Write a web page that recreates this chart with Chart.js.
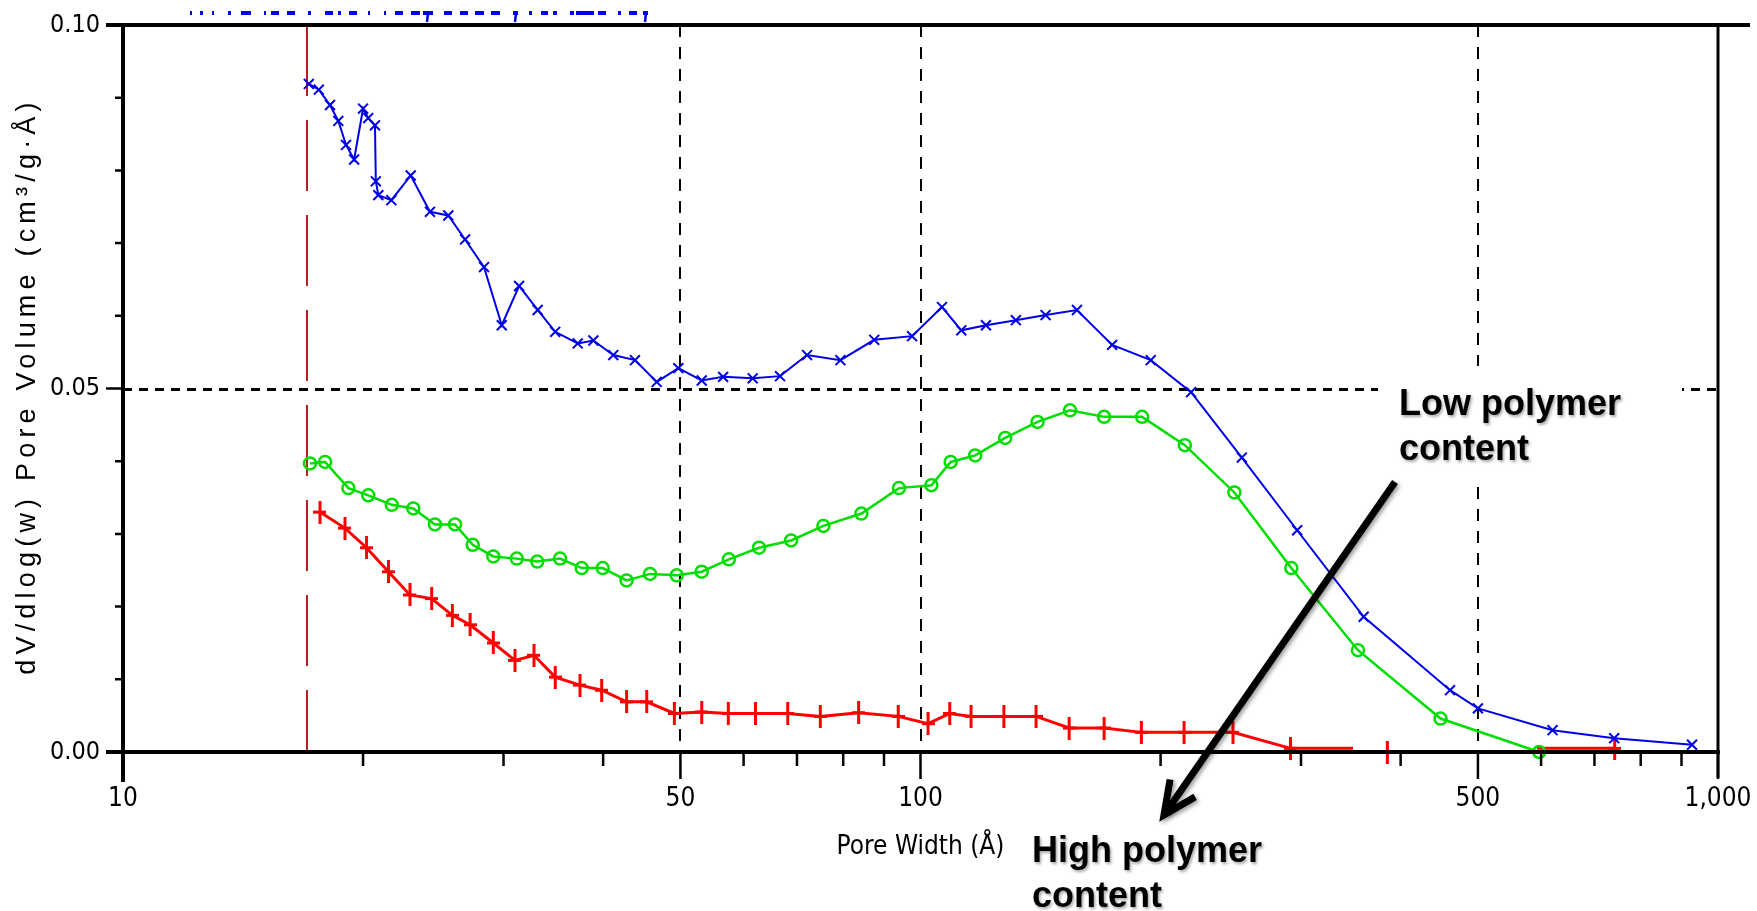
<!DOCTYPE html>
<html><head><meta charset="utf-8">
<script src="https://cdn.jsdelivr.net/npm/chart.js@4.4.1/dist/chart.umd.min.js"></script>
<style>html,body{margin:0;padding:0;background:#fff;overflow:hidden}canvas{display:block}</style>
</head><body>
<canvas id="c" width="1757" height="911"></canvas>
<script>
// ---------- data (pore width in Å, dV/dlog(w) in cm³/g·Å) ----------
const blueX = [17.1, 17.6, 18.18, 18.62, 19.04, 19.49, 20.0, 20.3, 20.7, 20.75, 20.9, 21.7, 22.95, 24.26, 25.58, 26.85, 28.36, 29.85, 31.38, 33.11, 34.83, 37.17, 38.89, 41.19, 43.85, 46.69, 49.7, 53.17, 56.56, 61.6, 66.66, 72.07, 79.36, 87.5, 97.6, 106.4, 112.5, 120.8, 131.7, 143.5, 157.1, 173.9, 194.4, 218.4, 252.9, 296.7, 359.5, 461.3, 500, 620.2, 741, 927.8];
const blueY = [0.0919, 0.0911, 0.0890, 0.0868, 0.0835, 0.0815, 0.0885, 0.0872, 0.0862, 0.0785, 0.0766, 0.0759, 0.0793, 0.0743, 0.0738, 0.0705, 0.0667, 0.0587, 0.0641, 0.0608, 0.0578, 0.0562, 0.0566, 0.0546, 0.0539, 0.0509, 0.0528, 0.0511, 0.0516, 0.0514, 0.0517, 0.0546, 0.0539, 0.0567, 0.0572, 0.0612, 0.0580, 0.0587, 0.0594, 0.0601, 0.0608, 0.0560, 0.0539, 0.0495, 0.0405, 0.0305, 0.0186, 0.0085, 0.0060, 0.0030, 0.0019, 0.0010];

const greenX = [17.16, 17.92, 19.17, 20.3, 21.73, 23.12, 24.61, 26.08, 27.45, 29.13, 31.17, 33.07, 35.32, 37.6, 39.95, 42.8, 45.8, 49.47, 53.17, 57.5, 62.73, 68.82, 75.55, 84.31, 93.96, 103.2, 109.1, 117.1, 127.7, 140.2, 154, 169.9, 189.6, 214.5, 247.5, 291.7, 353.6, 448.8, 596.7];
const greenY = [0.0397, 0.0399, 0.0363, 0.0353, 0.0340, 0.0335, 0.0313, 0.0313, 0.0285, 0.0269, 0.0266, 0.0262, 0.0266, 0.0253, 0.0253, 0.0236, 0.0245, 0.0243, 0.0248, 0.0265, 0.0281, 0.0291, 0.0311, 0.0328, 0.0363, 0.0367, 0.0399, 0.0408, 0.0432, 0.0454, 0.0470, 0.0461, 0.0461, 0.0422, 0.0357, 0.0253, 0.0140, 0.0046, 0.0000];

const redX = [17.66, 18.98, 20.2, 21.52, 22.9, 24.38, 25.88, 27.24, 29.13, 31.01, 32.76, 34.83, 37.41, 39.83, 42.8, 45.36, 49.13, 53.17, 57.41, 62.1, 68.16, 74.87, 83.63, 93.77, 102.2, 108.8, 115.7, 127.2, 139.6, 153.6, 169.9, 189.2, 214, 246.5, 291, 348.6, 366, 384.9, 480, 593, 742];
const redY = [0.0330, 0.0308, 0.0281, 0.0248, 0.0216, 0.0211, 0.0188, 0.0175, 0.0150, 0.0126, 0.0133, 0.0103, 0.0092, 0.0085, 0.0069, 0.0069, 0.0053, 0.0055, 0.0053, 0.0053, 0.0053, 0.0049, 0.0054, 0.0049, 0.0039, 0.0053, 0.0049, 0.0049, 0.0049, 0.0033, 0.0033, 0.0027, 0.0027, 0.0027, 0.0005, 0.0005, null, 0.0000, null, 0.0005, 0.0005];

const markerLineX = 17;                 // vertical red dashed marker
const xGridLines = [50, 100, 500];
const yGridLines = [0.05];
const xMajorTicks = [10, 50, 100, 500, 1000];
const xTickLabels = ['10', '50', '100', '500', '1,000'];
const xMinorTicks = [20, 30, 40, 60, 70, 80, 90, 200, 300, 400, 600, 700, 800, 900];
const yMajorTicks = [0, 0.05, 0.10];
const yTickLabels = ['0.00', '0.05', '0.10'];
const yMinorTicks = [0.01, 0.02, 0.03, 0.04, 0.06, 0.07, 0.08, 0.09];

const xTitle = 'Pore Width (Å)';
const yTitle = 'dV/dlog(w) Pore Volume (cm³/g·Å)';
const noteLow = ['Low polymer', 'content'];
const noteHigh = ['High polymer', 'content'];

// ---------- helpers ----------
const pts = (xs, ys) => xs.map((x, i) => ({x, y: ys[i]}));
const NARROW = '"DejaVu Sans Condensed", "Liberation Sans Narrow", sans-serif';
const noTickGrid = (len) => ({ display: true, drawOnChartArea: false, drawTicks: true, tickLength: len,
  tickColor: 'rgba(0,0,0,0)', color: 'rgba(0,0,0,0)' });

const plusMark = document.createElement('canvas');
plusMark.width = 13; plusMark.height = 23;
(() => { const g = plusMark.getContext('2d'); g.fillStyle = '#ff0000';
  g.fillRect(5, 0, 3, 23); g.fillRect(0, 10, 13, 3); })();

const decor = {
  id: 'decor',
  beforeDatasetsDraw(chart) {
    const {ctx, chartArea: a, scales: {x, y}} = chart;
    ctx.save();
    ctx.strokeStyle = '#000';
    ctx.lineWidth = 3; ctx.setLineDash([9, 7]);
    for (const v of yGridLines) {
      const py = Math.round(y.getPixelForValue(v)) + 0.5;
      ctx.beginPath(); ctx.moveTo(a.left, py); ctx.lineTo(a.right, py); ctx.stroke();
    }
    ctx.lineWidth = 2; ctx.setLineDash([12, 10]);
    for (const v of xGridLines) {
      const px = Math.round(x.getPixelForValue(v));
      ctx.beginPath(); ctx.moveTo(px, a.top); ctx.lineTo(px, a.bottom); ctx.stroke();
    }
    ctx.strokeStyle = '#b22222'; ctx.setLineDash([71, 24]);
    const mx = Math.round(x.getPixelForValue(markerLineX));
    ctx.beginPath(); ctx.moveTo(mx, a.top); ctx.lineTo(mx, a.bottom); ctx.stroke();
    ctx.restore();
  },
  afterDatasetsDraw(chart) {
    const {ctx, chartArea: a, scales: {x, y}} = chart;
    ctx.save();
    ctx.strokeStyle = '#000'; ctx.setLineDash([]);
    ctx.lineWidth = 4;
    ctx.beginPath();
    ctx.moveTo(a.left - 17, a.bottom); ctx.lineTo(a.right + 2, a.bottom);
    ctx.moveTo(a.left - 17, a.top); ctx.lineTo(a.right + 32, a.top);
    ctx.moveTo(a.left, a.top); ctx.lineTo(a.left, a.bottom + 30);
    ctx.stroke();
    ctx.lineWidth = 3;
    ctx.beginPath(); ctx.moveTo(a.right, a.top); ctx.lineTo(a.right, a.bottom + 26); ctx.stroke();
    ctx.lineWidth = 2.5;
    ctx.beginPath();
    for (const v of xMajorTicks) { const px = x.getPixelForValue(v); ctx.moveTo(px, a.bottom); ctx.lineTo(px, a.bottom + 27); }
    for (const v of xMinorTicks) { const px = x.getPixelForValue(v); ctx.moveTo(px, a.bottom); ctx.lineTo(px, a.bottom + 14); }
    for (const v of yMajorTicks) { const py = y.getPixelForValue(v); ctx.moveTo(a.left - 17, py); ctx.lineTo(a.left, py); }
    for (const v of yMinorTicks) { const py = y.getPixelForValue(v); ctx.moveTo(a.left - 8, py); ctx.lineTo(a.left, py); }
    ctx.stroke();
    ctx.restore();
  },
  afterDraw(chart) {
    const {ctx} = chart;
    ctx.save();
    // clipped legend remnant at very top
    ctx.strokeStyle = '#0000e6'; ctx.lineWidth = 4;
    ctx.setLineDash([2,8,3,9,2,14,3,10,10,13,2,5,8,8,8,13,3,14,8,5,3,8,8,11,2,14,2,9,8,8,9,3,10,11,8,8,8,7,9,7,9,13,5,11,3,9,7,5,4,13,4,2,18,4,8,12,3,8,8,6,5,60]);
    ctx.beginPath(); ctx.moveTo(190, 13); ctx.lineTo(648, 13); ctx.stroke();
    ctx.setLineDash([]); ctx.lineWidth = 2.5;
    ctx.beginPath();
    for (const px of [428, 516, 646]) { ctx.moveTo(px, 13); ctx.lineTo(px - 1, 22); }
    ctx.stroke();

    // y axis title
    ctx.save();
    ctx.translate(28, 386); ctx.rotate(-Math.PI / 2);
    ctx.fillStyle = '#000';
    ctx.font = '27px "Liberation Sans", Arial, sans-serif';
    ctx.letterSpacing = '5.2px';
    ctx.textAlign = 'center'; ctx.textBaseline = 'middle';
    ctx.fillText(yTitle, 0, 0);
    ctx.restore();

    // white box behind "Low polymer content"
    ctx.fillStyle = '#fff';
    ctx.fillRect(1378, 366, 304, 112);

    ctx.font = 'bold 36px "Liberation Sans", Arial, sans-serif';
    ctx.textAlign = 'left'; ctx.textBaseline = 'alphabetic';
    ctx.shadowColor = 'rgba(0,0,0,0.35)'; ctx.shadowBlur = 3; ctx.shadowOffsetX = 1.5; ctx.shadowOffsetY = 1.5;
    ctx.fillStyle = '#000';
    ctx.fillText(noteLow[0], 1399, 415);
    ctx.fillText(noteLow[1], 1399, 460);
    ctx.fillText(noteHigh[0], 1032, 862);
    ctx.fillText(noteHigh[1], 1032, 907);

    // arrow
    const x0 = 1395, y0 = 482, x1 = 1164, y1 = 815;
    const len = Math.hypot(x0 - x1, y0 - y1);
    const ux = (x0 - x1) / len, uy = (y0 - y1) / len;
    const th = 25 * Math.PI / 180, hl = 36;
    const rot = (s) => [x1 + hl * (ux * Math.cos(s) - uy * Math.sin(s)), y1 + hl * (ux * Math.sin(s) + uy * Math.cos(s))];
    const [ax, ay] = rot(th), [bx, by] = rot(-th);
    ctx.strokeStyle = '#000'; ctx.lineWidth = 7; ctx.lineCap = 'butt'; ctx.lineJoin = 'miter';
    ctx.shadowColor = 'rgba(0,0,0,0.4)'; ctx.shadowBlur = 4; ctx.shadowOffsetX = 2; ctx.shadowOffsetY = 2;
    ctx.beginPath(); ctx.moveTo(x0, y0); ctx.lineTo(x1 + ux * 3, y1 + uy * 3); ctx.stroke();
    ctx.beginPath(); ctx.moveTo(ax, ay); ctx.lineTo(x1, y1); ctx.lineTo(bx, by); ctx.stroke();
    ctx.restore();
  }
};

new Chart(document.getElementById('c'), {
  type: 'line',
  data: {
    datasets: [
      { label: 'blue', data: pts(blueX, blueY), borderColor: '#0000e6', borderWidth: 2,
        pointStyle: 'crossRot', pointRadius: 7, pointBorderWidth: 2, pointBorderColor: '#0000e6',
        pointBackgroundColor: '#0000e6', clip: false },
      { label: 'green', data: pts(greenX, greenY), borderColor: '#00dd00', borderWidth: 2.5,
        pointStyle: 'circle', pointRadius: 6, pointBorderWidth: 2.5, pointBorderColor: '#00dd00',
        pointBackgroundColor: 'rgba(0,0,0,0)', clip: false },
      { label: 'red', data: pts(redX, redY), borderColor: '#ff0000', borderWidth: 3,
        pointStyle: plusMark, clip: false,
        pointRadius: (c) => {
          const i = c.dataIndex, d = c.dataset.data;
          const pn = i > 0 && d[i - 1].y === null, nn = i < d.length - 1 && d[i + 1].y === null;
          return (pn !== nn) ? 0 : 8;
        } }
    ]
  },
  options: {
    responsive: false, animation: false, devicePixelRatio: 1,
    layout: { padding: { left: 0, top: 25, right: 39, bottom: 0 } },
    elements: { line: { tension: 0 } },
    plugins: { legend: { display: false }, tooltip: { enabled: false } },
    scales: {
      x: {
        type: 'logarithmic', position: 'bottom', min: 10, max: 1000,
        afterFit: (s) => { s.height = 159; },
        afterBuildTicks: (s) => { s.ticks = xMajorTicks.map(v => ({ value: v })); },
        grid: noTickGrid(30), border: { display: false },
        ticks: { autoSkip: false, maxRotation: 0, padding: 2, color: '#000',
          font: { family: NARROW, size: 26 }, callback: (v, i) => xTickLabels[i] },
        title: { display: true, text: xTitle, color: '#000',
          font: { family: NARROW, size: 26 }, padding: { top: 0, bottom: 48 } }
      },
      y: {
        type: 'linear', position: 'left', min: 0, max: 0.1,
        afterFit: (s) => { s.width = 123; },
        afterBuildTicks: (s) => { s.ticks = yMajorTicks.map(v => ({ value: v })); },
        grid: noTickGrid(20), border: { display: false },
        ticks: { padding: 3, color: '#000', font: { family: NARROW, size: 25 },
          callback: (v, i) => yTickLabels[i] }
      }
    }
  },
  plugins: [decor]
});
</script>
</body></html>
